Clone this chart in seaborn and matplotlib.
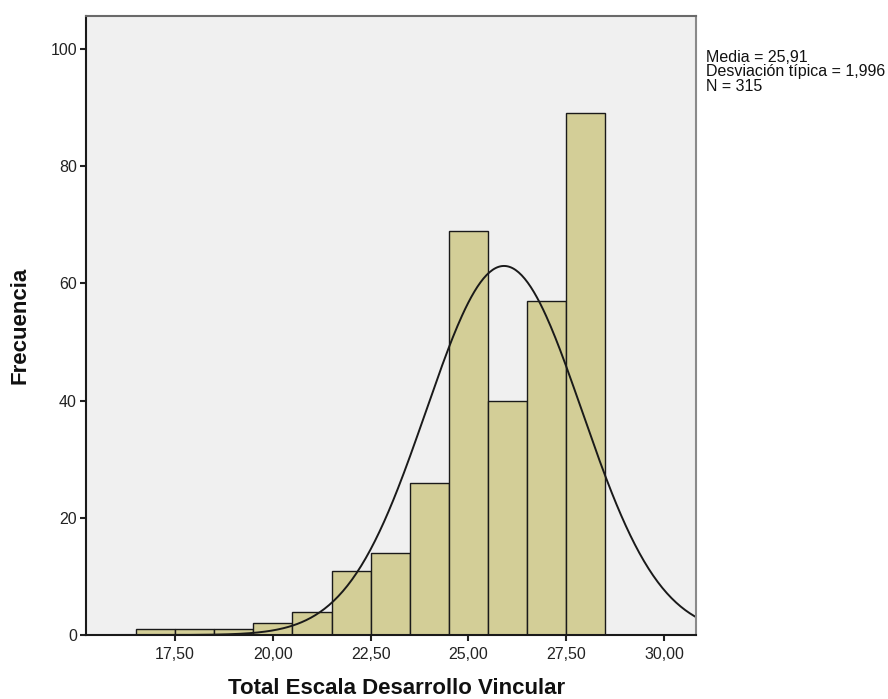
import numpy as np
import matplotlib
matplotlib.use("Agg")
import matplotlib.pyplot as plt
import seaborn as sns

# Histogram bins (width 1) and frequencies
bin_edges = [16.5, 17.5, 18.5, 19.5, 20.5, 21.5, 22.5, 23.5, 24.5, 25.5, 26.5, 27.5, 28.5]
bin_centers = [17, 18, 19, 20, 21, 22, 23, 24, 25, 26, 27, 28]
counts = [1, 1, 1, 2, 4, 11, 14, 26, 69, 40, 57, 89]

# Summary statistics
media = 25.91
desv = 1.996
n_total = 315

x_ticks = [17.5, 20.0, 22.5, 25.0, 27.5, 30.0]
x_tick_labels = ["17,50", "20,00", "22,50", "25,00", "27,50", "30,00"]
y_ticks = [0, 20, 40, 60, 80, 100]

sns.set_style("white")
plt.rcParams["font.family"] = ["Liberation Sans", "DejaVu Sans"]

W, H = 888, 699
fig = plt.figure(figsize=(W / 100, H / 100), dpi=100)
ax = fig.add_axes([86 / W, 1 - 635 / H, (696 - 86) / W, (635 - 16) / H])
ax.set_facecolor("#F0F0F0")

sns.histplot(x=bin_centers, weights=counts, bins=bin_edges, ax=ax,
             color="#D3CE97", edgecolor="#1a1a1a", linewidth=1.0, alpha=1.0)

xlim = (15.22, 30.82)
ax.set_xlim(*xlim)
ax.set_ylim(0, 105.6)

# Fitted normal curve scaled to counts (bin width 1)
xs = np.linspace(xlim[0], xlim[1], 400)
bw = bin_edges[1] - bin_edges[0]
ys = n_total * bw / (desv * np.sqrt(2 * np.pi)) * np.exp(-0.5 * ((xs - media) / desv) ** 2)
sns.lineplot(x=xs, y=ys, ax=ax, color="#1a1a1a", linewidth=1.4)

ax.set_xticks(x_ticks)
ax.set_xticklabels(x_tick_labels)
ax.set_yticks(y_ticks)
ax.tick_params(axis="both", direction="out", length=4.5, width=1.5, color="#222222",
               labelsize=11.5, labelcolor="#222222", bottom=True, left=True)
ax.tick_params(axis="x", pad=4)
ax.tick_params(axis="y", pad=2)

for side in ["left", "bottom"]:
    ax.spines[side].set_color("#1a1a1a")
    ax.spines[side].set_linewidth(1.5)
ax.spines["top"].set_color("#6a6a6a")
ax.spines["top"].set_linewidth(1.5)
ax.spines["right"].set_color("#8a8a8a")
ax.spines["right"].set_linewidth(1.5)

ax.set_xlabel("")
ax.set_ylabel("")
fig.text(397 / W, 1 - 694 / H, "Total Escala Desarrollo Vincular",
         fontsize=16, fontweight="bold", ha="center", va="baseline", color="#111111")
fig.text(20 / W, 1 - 325 / H, "Frecuencia", rotation=90,
         fontsize=16, fontweight="bold", ha="center", va="center", color="#111111")

fig.text(706 / W, 1 - 50 / H,
         f"Media = {media:.2f}".replace(".", ",") + "\n"
         + f"Desviación típica = {desv:.3f}".replace(".", ",") + "\n"
         + f"N = {n_total}",
         fontsize=11.5, va="top", ha="left", color="#111111", linespacing=0.95)

fig.savefig("out.png", dpi=100)
